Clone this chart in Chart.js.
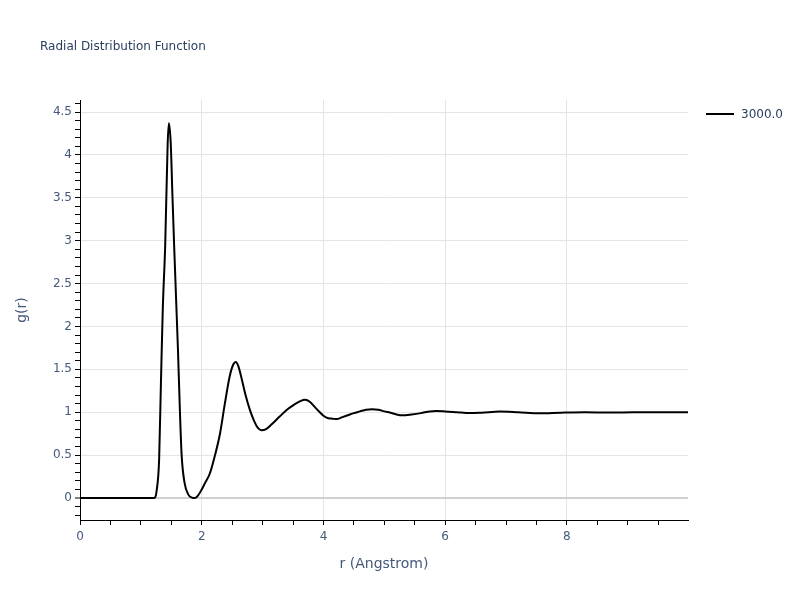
<!DOCTYPE html>
<html>
<head>
<meta charset="utf-8">
<script src="https://cdn.jsdelivr.net/npm/chart.js@4.4.1/dist/chart.umd.min.js"></script>
<style>
  html, body { margin: 0; padding: 0; background: #fff; }
  #wrap { width: 800px; height: 600px; }
</style>
</head>
<body>
<div id="wrap"><canvas id="c" width="800" height="600"></canvas></div>
<script>
const chartTitle = "Radial Distribution Function";
const seriesLabel = "3000.0";
const xAxisTitle = "r (Angstrom)";
const yAxisTitle = "g(r)";

const rValues = [0, 0.5, 1.0, 1.2, 1.23, 1.26, 1.3, 1.33, 1.36, 1.40, 1.44, 1.46, 1.49, 1.52, 1.55, 1.58, 1.61, 1.64, 1.67, 1.72, 1.78, 1.84, 1.89, 1.94, 2.0, 2.05, 2.13, 2.2, 2.3, 2.38, 2.46, 2.52, 2.56, 2.6, 2.66, 2.72, 2.79, 2.86, 2.92, 2.98, 3.05, 3.15, 3.28, 3.4, 3.52, 3.62, 3.7, 3.78, 3.86, 3.94, 4.0, 4.08, 4.15, 4.22, 4.3, 4.4, 4.5, 4.6, 4.7, 4.8, 4.9, 5.0, 5.1, 5.2, 5.3, 5.45, 5.6, 5.75, 5.85, 6.0, 6.2, 6.4, 6.6, 6.9, 7.2, 7.55, 7.9, 8.3, 8.7, 9.1, 9.5, 10.0];
const gValues = [0, 0, 0, 0, 0.005, 0.09, 0.45, 1.35, 2.2, 2.95, 4.12, 4.37, 4.15, 3.5, 2.88, 2.3, 1.72, 1.05, 0.5, 0.17, 0.04, 0.005, 0.0, 0.03, 0.1, 0.17, 0.28, 0.45, 0.75, 1.1, 1.42, 1.56, 1.585, 1.54, 1.38, 1.2, 1.03, 0.9, 0.82, 0.79, 0.8, 0.86, 0.95, 1.03, 1.09, 1.13, 1.145, 1.12, 1.06, 1.0, 0.96, 0.93, 0.925, 0.92, 0.94, 0.965, 0.99, 1.01, 1.03, 1.035, 1.03, 1.01, 0.995, 0.975, 0.965, 0.975, 0.99, 1.01, 1.015, 1.01, 1.0, 0.99, 0.995, 1.008, 1.0, 0.988, 0.995, 1.0, 0.997, 1.0, 1.0, 1.0];

const xMajorTicks = [0, 2, 4, 6, 8];
const yMajorTicks = [0, 0.5, 1, 1.5, 2, 2.5, 3, 3.5, 4, 4.5];
const xMinorStep = 0.5;
const yMinorStep = 0.1;
const xRange = [0, 9.99];
const yRange = [-0.256, 4.64];

const textColor = '#2a3f5f';
const tickTextColor = '#45597a';
const fontFamily = '"DejaVu Sans", Verdana, sans-serif';

function isMajor(list, v) {
  return list.some(m => Math.abs(m - v) < 1e-6);
}
function buildTicks(min, max, step) {
  const out = [];
  const start = Math.ceil(min / step - 1e-9);
  const end = Math.floor(max / step + 1e-9);
  for (let i = start; i <= end; i++) out.push({ value: Math.round(i * step * 1000) / 1000 });
  return out;
}

const overlayPlugin = {
  id: 'overlay',
  afterDraw(chart) {
    const ctx = chart.ctx;
    ctx.save();
    ctx.fillStyle = textColor;
    ctx.font = '12px ' + fontFamily;
    ctx.textBaseline = 'middle';
    ctx.textAlign = 'left';
    ctx.fillText(chartTitle, 40, 47);
    const ds = chart.data.datasets[0];
    ctx.strokeStyle = ds.borderColor;
    ctx.lineWidth = 2;
    ctx.beginPath();
    ctx.moveTo(706, 114);
    ctx.lineTo(734, 114);
    ctx.stroke();
    ctx.fillText(ds.label, 741, 115);
    ctx.restore();
  }
};

new Chart(document.getElementById('c'), {
  type: 'line',
  data: {
    datasets: [{
      label: seriesLabel,
      data: rValues.map((r, i) => ({ x: r, y: gValues[i] })),
      borderColor: '#000000',
      borderWidth: 2,
      pointRadius: 0,
      fill: false,
      cubicInterpolationMode: 'monotone'
    }]
  },
  options: {
    responsive: false,
    devicePixelRatio: 1,
    animation: false,
    layout: { padding: { left: 0, top: 100, right: 112, bottom: 0 } },
    plugins: {
      legend: { display: false },
      title: { display: false },
      tooltip: { enabled: false }
    },
    scales: {
      x: {
        type: 'linear',
        min: xRange[0],
        max: xRange[1],
        afterFit(scale) { scale.height = 80; },
        afterBuildTicks(scale) { scale.ticks = buildTicks(xRange[0], xRange[1], xMinorStep); },
        border: { display: true, color: '#000', width: 1 },
        grid: {
          color: c => (c.tick && isMajor(xMajorTicks, c.tick.value) && c.tick.value !== 0) ? '#e5e5e5' : 'rgba(0,0,0,0)',
          lineWidth: 1,
          tickColor: '#000',
          tickLength: 5,
          tickWidth: 1,
          drawTicks: true
        },
        ticks: {
          autoSkip: false,
          maxRotation: 0,
          padding: 5,
          color: tickTextColor,
          font: { family: fontFamily, size: 12 },
          callback: v => isMajor(xMajorTicks, v) ? String(v) : ''
        },
        title: {
          display: true,
          text: xAxisTitle,
          color: tickTextColor,
          font: { family: fontFamily, size: 14 },
          padding: { top: 0, bottom: 27 }
        }
      },
      y: {
        type: 'linear',
        min: yRange[0],
        max: yRange[1],
        afterFit(scale) { scale.width = 80; },
        afterBuildTicks(scale) { scale.ticks = buildTicks(yRange[0], yRange[1], yMinorStep); },
        border: { display: true, color: '#000', width: 1 },
        grid: {
          color: c => {
            if (!c.tick) return 'rgba(0,0,0,0)';
            if (Math.abs(c.tick.value) < 1e-6) return '#d0d0d0';
            return isMajor(yMajorTicks, c.tick.value) ? '#e5e5e5' : 'rgba(0,0,0,0)';
          },
          lineWidth: c => (c.tick && Math.abs(c.tick.value) < 1e-6) ? 2 : 1,
          tickColor: '#000',
          tickLength: 5,
          tickWidth: 1,
          drawTicks: true
        },
        ticks: {
          autoSkip: false,
          padding: 3,
          color: tickTextColor,
          font: { family: fontFamily, size: 12 },
          callback: v => isMajor(yMajorTicks, v) ? String(v) : ''
        },
        title: {
          display: true,
          text: yAxisTitle,
          color: tickTextColor,
          font: { family: fontFamily, size: 14 },
          padding: { top: 14, bottom: 0 }
        }
      }
    }
  },
  plugins: [overlayPlugin]
});
</script>
</body>
</html>
